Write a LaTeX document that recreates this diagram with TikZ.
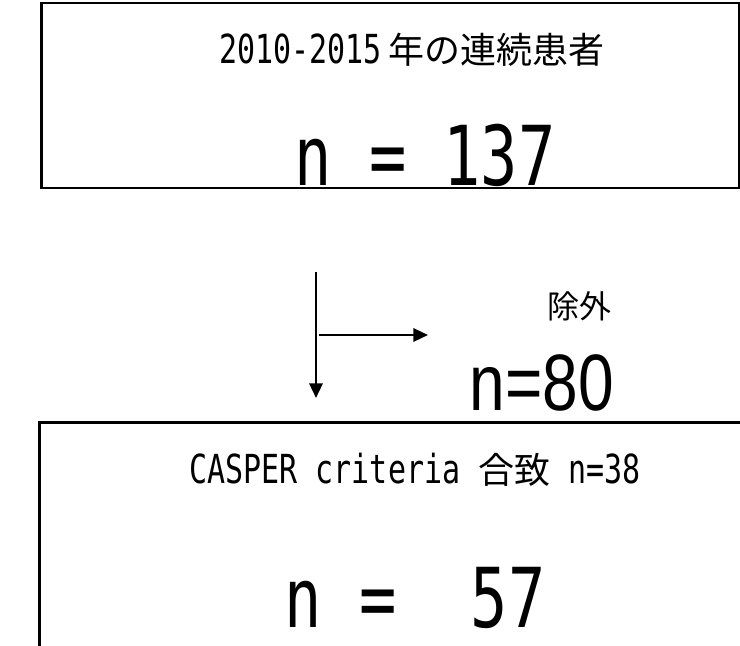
\documentclass[tikz,border=0pt]{standalone}
\usepackage{fontspec}
\usetikzlibrary{arrows.meta}
\newfontfamily\jp{Noto Sans CJK JP}
\newfontfamily\gmono[FakeStretch=0.75]{DejaVu Sans Mono}
\newfontfamily\arialn[FakeStretch=0.8]{Liberation Sans}
\begin{document}
\begin{tikzpicture}[x=0.75pt,y=-0.75pt,
  frame/.style={draw=black,line width=2.2pt},
  arr/.style={line width=1.8pt,-{Triangle[length=11pt,width=10pt]}},
  txt/.style={inner sep=0pt,anchor=center}]
\useasboundingbox (0,0) rectangle (740,646);
\clip (0,0) rectangle (740,646);
% boxes
\node[frame,minimum width=698*0.75pt,minimum height=185*0.75pt,anchor=north west,inner sep=0pt] (top) at (40,1.5) {};
\node[frame,minimum width=760*0.75pt,minimum height=300*0.75pt,anchor=north west,inner sep=0pt] (bot) at (38,421) {};
% texts
\node[txt] (t1) at (412,50) {\fontsize{30pt}{30pt}\selectfont\gmono 2010-2015\,\jp\fontsize{27pt}{27pt}\selectfont 年の連続患者};
\node[txt] (t2) at (425,155) {\fontsize{62pt}{62pt}\selectfont\gmono n = 137};
\node[txt] (ex) at (579,306) {\fontsize{24pt}{24pt}\selectfont\jp 除外};
\node[txt] (n80) at (542,383) {\fontsize{60pt}{60pt}\selectfont\arialn n=80};
\node[txt] (b1) at (415,470) {\fontsize{30pt}{30pt}\selectfont\gmono CASPER criteria \jp\fontsize{27pt}{27pt}\selectfont 合致\gmono\fontsize{30pt}{30pt}\selectfont{} n=38};
\node[txt] (b2) at (415,598) {\fontsize{62pt}{62pt}\selectfont\gmono n =\ \ 57};
% arrows
\coordinate (vs) at (316,272);
\coordinate (ve) at (316,398);
\coordinate (hs) at (319,335);
\coordinate (he) at (428,335);
\draw[arr] (vs) -- (ve);
\draw[arr] (hs) -- (he);
\end{tikzpicture}
\end{document}
